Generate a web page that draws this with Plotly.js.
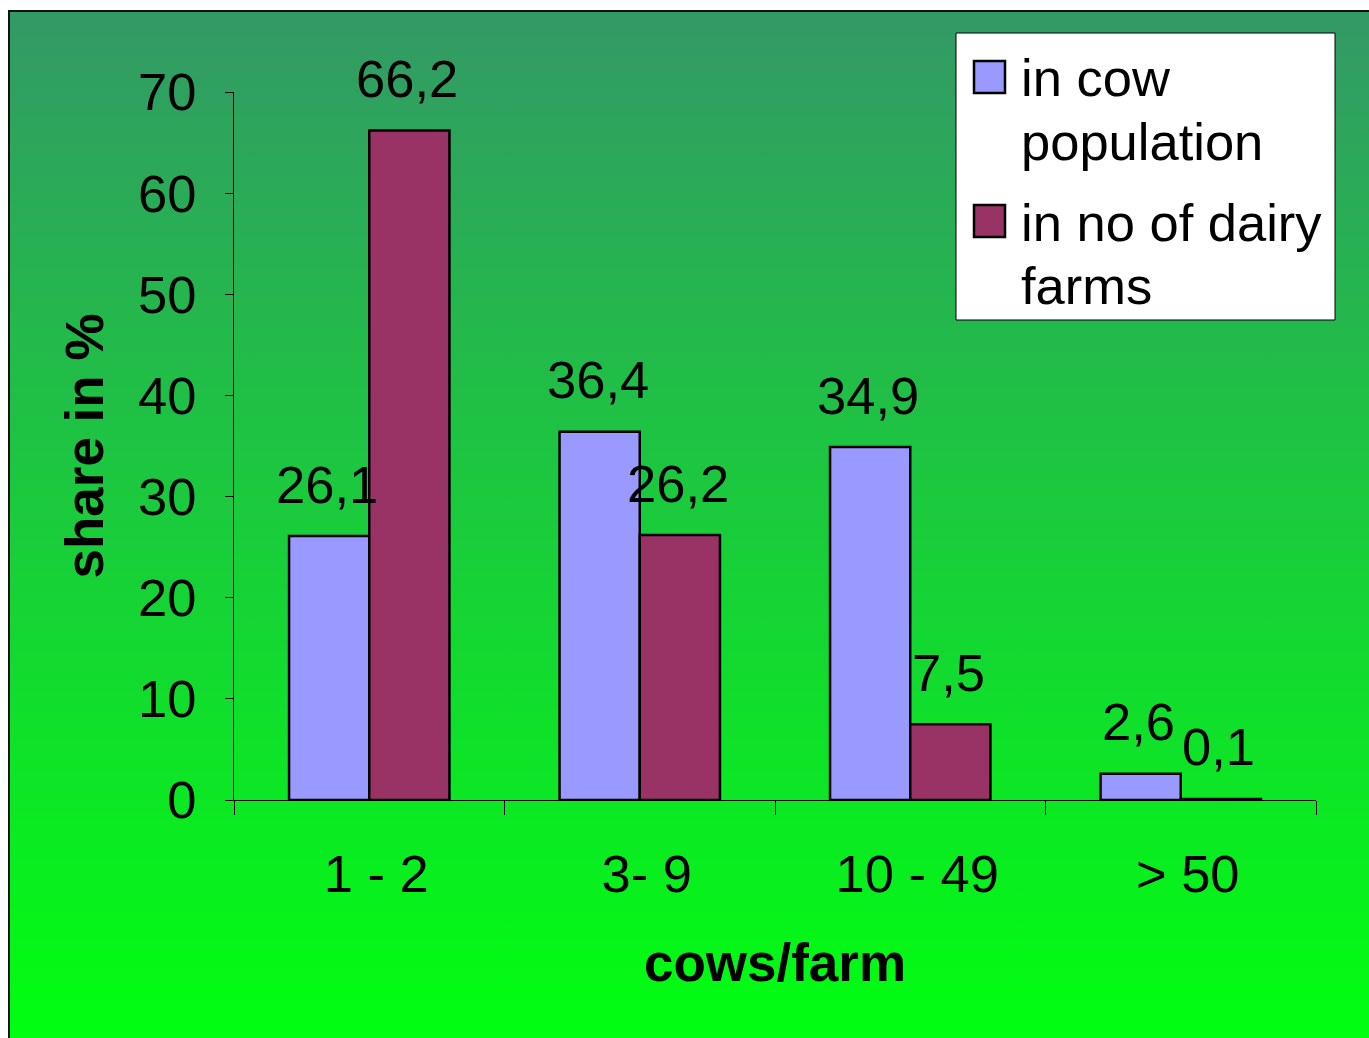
<!DOCTYPE html>
<html><head><meta charset="utf-8">
<script src="https://cdn.plot.ly/plotly-3.0.1.min.js"></script>
<style>
html,body{margin:0;padding:0;background:#fff;}
#wrap{position:relative;width:1369px;height:1038px;overflow:hidden;}
#bg{position:absolute;left:8px;top:10px;width:1361px;height:1028px;box-sizing:border-box;border-left:2px solid #111;border-top:2px solid #111;background:linear-gradient(to bottom,#339966 0%,#00ff10 100%);}
#chart{position:absolute;left:0;top:0;width:1369px;height:1038px;}
</style></head>
<body>
<div id="wrap"><div id="bg"></div><div id="chart"></div></div>
<script>
// ---- data ----
var categories = ['1 - 2', '3- 9', '10 - 49', '> 50'];
var seriesNames = ['in cow population', 'in no of dairy farms'];
var seriesLines = [['in cow', 'population'], ['in no of dairy', 'farms']];
var cowShare = [26.1, 36.4, 34.9, 2.6];
var farmShare = [66.2, 26.2, 7.5, 0.1];
var yTicks = [0, 10, 20, 30, 40, 50, 60, 70];

// ---- styling ----
var FONT = 'Liberation Sans, Arial, sans-serif';
var FS = 52.5;
var colors = ['#9999FF', '#993366'];
var W = 1369, H = 1038;
var M = {l: 234, r: 53, t: 92, b: 238};
var pw = W - M.l - M.r, ph = H - M.t - M.b;
function px(x) { return (x - M.l) / pw; }
function py(y) { return (H - M.b - y) / ph; }
function fmt(v) { return v.toFixed(1).replace('.', ','); }

var series = [cowShare, farmShare];
var traces = series.map(function (vals, i) {
  return {
    type: 'bar', x: categories, y: vals, name: seriesNames[i],
    marker: {color: colors[i], line: {color: '#000', width: 2.5}},
    hoverinfo: 'x+y'
  };
});

var annotations = [];
series.forEach(function (vals, i) {
  vals.forEach(function (v, j) {
    annotations.push({
      x: categories[j], y: v, xref: 'x', yref: 'y',
      text: fmt(v), showarrow: false, xshift: i === 0 ? -42 : 38, yshift: 52,
      yanchor: 'middle', font: {family: FONT, size: FS, color: '#000'}
    });
  });
});

// custom legend
var shapes = [
  {type: 'rect', xref: 'paper', yref: 'paper', x0: px(956), x1: px(1335), y0: py(33), y1: py(320),
   fillcolor: '#fff', line: {color: '#000', width: 1}, layer: 'above'}
];
var legendRows = [61, 205];
var lineCenters = [[78, 141], [222, 285]];
seriesLines.forEach(function (lines, i) {
  var top = legendRows[i];
  shapes.push({type: 'rect', xref: 'paper', yref: 'paper', x0: px(974), x1: px(1005), y0: py(top), y1: py(top + 32),
    fillcolor: colors[i], line: {color: '#000', width: 2.5}, layer: 'above'});
  lines.forEach(function (t, k) {
    annotations.push({
      xref: 'paper', yref: 'paper', x: px(1019), y: py(lineCenters[i][k]), xanchor: 'left', yanchor: 'middle',
      align: 'left', text: t, showarrow: false, font: {family: FONT, size: FS, color: '#000'}
    });
  });
});

var layout = {
  width: W, height: H, margin: M,
  paper_bgcolor: 'rgba(0,0,0,0)', plot_bgcolor: 'rgba(0,0,0,0)',
  barmode: 'group', bargap: 0.407, bargroupgap: 0,
  showlegend: false,
  font: {family: FONT, color: '#000'},
  xaxis: {
    type: 'category', range: [-0.5, 3.5], showline: true, linecolor: '#000', linewidth: 1,
    ticks: 'outside', tickson: 'boundaries', ticklen: 14, tickcolor: '#000', tickwidth: 1,
    ticklabelstandoff: 28, ticklabelshift: 7,
    tickfont: {family: FONT, size: FS, color: '#000'}, showgrid: false, zeroline: false,
    title: {text: 'cows/farm', font: {family: FONT, size: 53, color: '#000', weight: 'bold'}, standoff: 41}
  },
  yaxis: {
    range: [0, 70], tickvals: yTicks, ticktext: yTicks.map(String), showline: true, linecolor: '#000', linewidth: 1,
    ticks: 'outside', ticklen: 8, tickcolor: '#000', tickwidth: 1, ticklabelstandoff: 18,
    tickfont: {family: FONT, size: FS, color: '#000'}, showgrid: false, zeroline: false,
    title: {text: 'share in %', font: {family: FONT, size: 53, color: '#000', weight: 'bold'}, standoff: 17}
  },
  shapes: shapes, annotations: annotations
};

Plotly.newPlot('chart', traces, layout, {displayModeBar: false, staticPlot: true});
</script>
</body></html>
